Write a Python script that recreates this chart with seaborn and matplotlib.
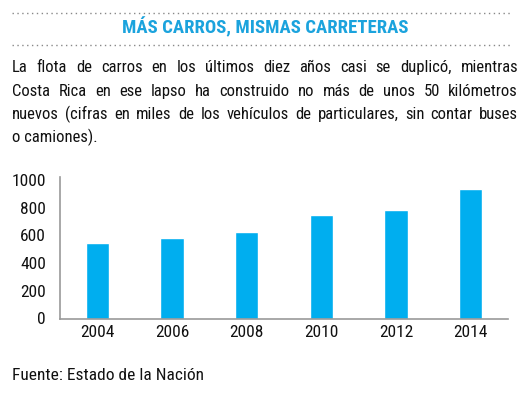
import matplotlib
matplotlib.use("Agg")
import matplotlib.pyplot as plt
import seaborn as sns
import pandas as pd
from matplotlib import font_manager

years = ["2004", "2006", "2008", "2010", "2012", "2014"]
values = [545, 580, 624, 747, 783, 932]
yticks = [0, 200, 400, 600, 800, 1000]
title = "MÁS CARROS, MISMAS CARRETERAS"
body_lines = [
    "La flota de carros en los últimos diez años casi se duplicó, mientras",
    "Costa Rica en ese lapso ha construido no más de unos 50 kilómetros",
    "nuevos (cifras en miles de los vehículos de particulares, sin contar buses",
    "o camiones).",
]
source = "Fuente: Estado de la Nación"

sns.set_style("white")
names = {f.name for f in font_manager.fontManager.ttflist}
prefs = ["Roboto Condensed", "Liberation Sans Narrow", "Arial Narrow",
         "Open Sans Condensed", "Barlow Condensed", "Archivo Narrow", "Roboto"]
fam = next(p for p in prefs if p in names)
plt.rcParams["font.family"] = [fam, "DejaVu Sans"]

W, H = 530, 396
fig = plt.figure(figsize=(W / 100, H / 100), dpi=100)
fig.patch.set_facecolor("white")

blue = "#00AEEF"
df = pd.DataFrame({"year": years, "value": values})
ax = fig.add_axes([60 / W, (H - 318.5) / H, 448 / W, (318.5 - 176.5) / H])
sns.barplot(data=df, x="year", y="value", color=blue, saturation=1, width=0.31, ax=ax)
ax.set_ylim(0, 1025)
ax.set_xlim(-0.5, 5.5)
ax.set_yticks(yticks)
ax.set_yticklabels([str(v) for v in yticks])
ax.set_xlabel("")
ax.set_ylabel("")
for s in ["top", "right"]:
    ax.spines[s].set_visible(False)
for s in ["left", "bottom"]:
    ax.spines[s].set_color("#999999")
    ax.spines[s].set_linewidth(1.2)
ax.tick_params(axis="both", length=0, labelsize=12.5, colors="#111111")
ax.tick_params(axis="y", pad=10)
ax.tick_params(axis="x", pad=5)

# title & dotted rules
fig.text(265 / W, 1 - 27 / H, title, ha="center", va="center", fontsize=13.5,
         fontweight="bold", color="#1BA3DD")
for yy in (13, 45):
    fig.add_artist(plt.Line2D([12 / W, 512 / W], [1 - yy / H, 1 - yy / H],
                              color="#888888", lw=1, ls=(0, (1, 2.5))))

# justified body text
renderer = fig.canvas.get_renderer()
left_px, right_px = 12, 518
baselines = [72, 96, 119, 142]
fs = 12
for i, line in enumerate(body_lines):
    y = 1 - baselines[i] / H
    if i == len(body_lines) - 1:
        fig.text(left_px / W, y, line, ha="left", va="baseline", fontsize=fs, color="#111111")
        continue
    words = line.split(" ")
    widths = []
    for w in words:
        t = fig.text(0, 0, w, fontsize=fs)
        widths.append(t.get_window_extent(renderer).width)
        t.remove()
    gap = (right_px - left_px - sum(widths)) / (len(words) - 1)
    x = left_px
    for w, wd in zip(words, widths):
        fig.text(x / W, y, w, ha="left", va="baseline", fontsize=fs, color="#111111")
        x += wd + gap

fig.text(12 / W, 1 - 376 / H, source, ha="left", va="center", fontsize=12.5, color="#111111")

fig.savefig("out.png", dpi=100)
